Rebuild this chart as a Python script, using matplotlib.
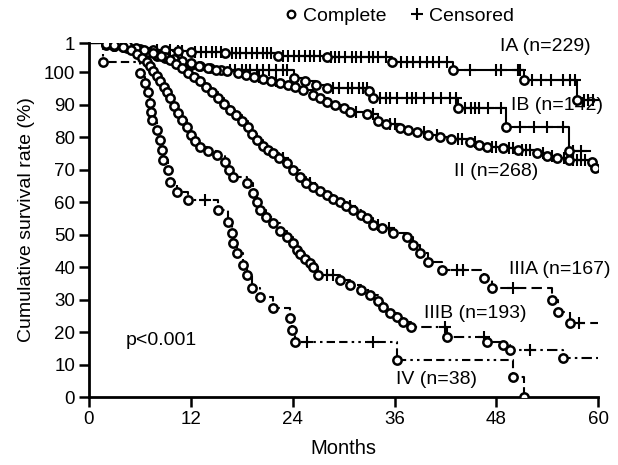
import matplotlib
matplotlib.use('Agg')
import matplotlib.pyplot as plt
import numpy as np
from matplotlib.lines import Line2D

plt.rcParams['font.family'] = ['Liberation Sans', 'DejaVu Sans']

# ---------------- data ----------------
TOP = 109  # value at which every curve starts (top of the axis, labelled "1")
x_ticks = [0, 12, 24, 36, 48, 60]
y_ticks = [0, 10, 20, 30, 40, 50, 60, 70, 80, 90, 100, 109]
y_tick_labels = ['0', '10', '20', '30', '40', '50', '60', '70', '80', '90', '100', '1']

group_labels = ['IA (n=229)', 'IB (n=142)', 'II (n=268)', 'IIIA (n=167)', 'IIIB (n=193)', 'IV (n=38)']

ia_t = [2.0, 3.0, 4.5, 6.0, 7.5, 9.0, 10.5, 12.0, 16.0, 22.3, 28.0, 35.7, 42.9, 51.2, 57.5]
ia_s = [108.5, 108.1, 107.7, 107.3, 107.0, 106.7, 106.5, 106.2, 105.8, 105.0, 104.7, 103.1, 100.6, 97.5, 91.4]
ia_cens = [8.0, 9.5, 10.5, 11.0, 12.5, 13.2, 13.8, 14.5, 15.0, 15.5, 16.8, 17.3, 17.8, 18.5, 19.2, 19.8,
           20.5, 21.0, 21.5, 22.8, 23.5, 24.2, 24.8, 25.5, 26.0, 26.5, 27.2, 28.5, 29.0, 29.5, 30.2, 31.0,
           31.5, 32.0, 33.0, 33.5, 34.0, 35.0, 36.8, 37.5, 38.2, 39.0, 39.8, 40.5, 41.2, 42.2, 44.9, 47.9,
           48.5, 50.5, 50.8, 52.2, 53.2, 54.4, 55.8, 56.7, 57.3, 58.3, 58.8, 59.4]
ia_end = 59.7

ib_t = [3.0, 4.5, 6.0, 7.0, 8.0, 9.0, 10.0, 11.0, 12.0, 13.1, 14.3, 15.5, 24.2, 25.5, 26.7, 28.0,
        33.0, 33.5, 43.5, 49.1, 56.5]
ib_s = [108.2, 107.4, 106.6, 105.9, 105.1, 104.4, 103.7, 103.0, 102.3, 101.8, 101.2, 100.6, 98.2, 97.2,
        96.0, 95.1, 94.2, 92.0, 89.0, 83.0, 75.7]
ib_cens = [16.6, 17.2, 18.0, 18.5, 19.0, 19.8, 20.5, 21.2, 22.0, 22.8, 23.3, 28.8, 29.5, 30.5, 31.0,
           31.8, 32.3, 32.8, 34.3, 35.0, 35.5, 36.3, 37.5, 38.0, 38.5, 39.5, 40.5, 41.5, 42.5, 43.3,
           44.3, 45.0, 45.5, 46.0, 47.0, 48.5, 50.8, 52.4, 54.0, 55.8, 57.0, 58.0]
ib_end = 59.0

ii_t = [2.0, 3.0, 4.0, 5.0, 6.0, 7.0, 8.0, 9.0, 10.0, 11.0, 12.0, 13.0, 14.0, 15.0, 16.3, 17.5, 18.5,
        19.5, 20.5, 21.5, 22.5, 23.5, 24.3, 25.2, 26.4, 27.2, 28.1, 29.0, 30.0, 30.8, 32.8, 34.0, 35.0,
        36.7, 37.6, 38.7, 40.0, 41.3, 42.6, 44.9, 46.0, 46.9, 48.8, 50.5, 52.8, 54.0, 55.2, 56.5, 59.3, 59.6]
ii_s = [108.6, 108.2, 107.8, 107.3, 106.7, 106.1, 105.4, 104.8, 104.1, 103.4, 102.7, 102.0, 101.4, 100.8,
        100.3, 99.7, 99.2, 98.6, 98.0, 97.4, 96.8, 96.2, 95.6, 94.5, 92.9, 92.0, 90.8, 90.0, 89.0, 87.7,
        87.0, 85.0, 84.2, 82.8, 82.2, 81.5, 80.6, 80.0, 79.6, 78.5, 77.6, 76.9, 76.6, 76.0, 75.1, 74.3,
        73.5, 73.0, 72.4, 70.5]
ii_cens = [20.0, 22.0, 31.5, 33.5, 35.5, 36.0, 39.5, 41.0, 43.5, 44.0, 45.5, 47.5, 48.0, 49.5, 50.0,
           51.0, 51.5, 52.0, 53.5, 54.5, 56.0, 57.0, 57.5, 58.0, 58.5]
ii_end = 59.6

iiia_t = [4.5, 5.5, 6.5, 7.5, 8.5, 9.5, 10.3, 11.0, 11.7, 12.4, 13.1, 13.8, 14.5, 15.2, 15.9, 16.6, 17.3,
          18.0, 18.7, 19.2, 19.8, 20.5, 21.1, 21.7, 22.4, 23.3, 24.0, 24.9, 25.6, 26.4, 27.2, 28.0, 28.8,
          29.6, 30.3, 31.1, 32.0, 32.8, 33.5, 34.5, 35.8, 37.5, 38.2, 39.0, 39.9, 41.6, 46.5, 47.5, 54.6,
          55.3, 56.7]
iiia_s = [108.3, 107.6, 106.9, 106.0, 105.0, 103.8, 102.5, 101.2, 99.8, 98.5, 97.2, 95.5, 93.8, 92.0, 90.2,
          88.5, 86.8, 85.0, 83.0, 81.0, 79.0, 77.4, 76.2, 75.0, 73.5, 72.0, 70.0, 67.7, 66.0, 64.6, 63.4,
          62.2, 61.1, 60.0, 58.8, 57.5, 56.2, 55.0, 53.0, 52.0, 50.5, 49.2, 46.8, 44.3, 41.5, 39.0, 36.6,
          33.5, 29.8, 26.2, 22.8]
iiia_cens = [22.8, 26.0, 30.7, 34.0, 35.3, 43.4, 44.1, 49.9, 57.7]
iiia_end = 60.0

iiib_t = [3.0, 4.0, 5.0, 5.7, 6.3, 6.8, 7.2, 7.6, 8.0, 8.4, 8.8, 9.2, 9.6, 10.0, 10.5, 11.0, 11.5, 12.0,
          12.5, 13.1, 14.0, 15.1, 16.0, 16.5, 17.0, 18.6, 19.3, 19.8, 20.2, 20.8, 21.7, 22.5, 23.3, 24.0,
          24.5, 24.9, 25.5, 26.0, 26.4, 27.0, 29.6, 30.8, 32.0, 33.1, 34.0, 34.7, 35.5, 36.3, 37.0, 37.9,
          42.2, 46.9, 48.8, 49.6, 55.9]
iiib_s = [108.4, 107.7, 106.8, 105.7, 104.5, 103.2, 101.8, 100.3, 98.8, 97.2, 95.6, 94.0, 92.0, 89.5,
          87.5, 85.3, 83.0, 80.8, 78.8, 77.0, 75.8, 74.5, 72.5, 70.0, 67.7, 66.0, 62.8, 60.2, 57.5, 55.5,
          53.5, 51.0, 49.2, 47.3, 45.3, 44.0, 42.5, 41.2, 40.0, 37.5, 36.0, 34.5, 33.0, 31.4, 29.5, 27.7,
          26.0, 24.6, 23.0, 21.5, 18.5, 16.9, 16.0, 14.5, 12.0]
iiib_cens = [28.0, 28.8, 42.0, 46.5, 52.0]
iiib_end = 60.0

iv_t = [1.7, 6.0, 6.6, 7.0, 7.2, 7.3, 7.4, 8.0, 8.4, 8.6, 8.7, 9.3, 9.6, 10.4, 11.7, 15.2, 16.4, 16.9,
        17.0, 17.4, 18.2, 18.6, 19.2, 20.2, 21.7, 23.7, 23.9, 24.3, 36.3, 49.9, 51.2]
iv_s = [103.3, 99.7, 96.6, 93.8, 90.5, 87.7, 85.2, 82.2, 79.1, 76.0, 72.9, 69.8, 66.2, 63.1, 60.6, 57.5,
        53.8, 50.5, 47.4, 44.3, 40.6, 37.5, 33.5, 30.8, 27.4, 24.3, 20.6, 16.9, 11.4, 6.2, 0.0]
iv_cens = [13.7, 25.7, 33.5]
iv_end = 51.2

# ---------------- styling ----------------
series = [
    (ia_t, ia_s, ia_cens, ia_end, '-'),
    (ib_t, ib_s, ib_cens, ib_end, '-'),
    (ii_t, ii_s, ii_cens, ii_end, '-'),
    (iiia_t, iiia_s, iiia_cens, iiia_end, (0, (5, 2.5))),
    (iiib_t, iiib_s, iiib_cens, iiib_end, (0, (5, 2, 1.2, 2))),
    (iv_t, iv_s, iv_cens, iv_end, (0, (4, 2, 4, 2, 1.2, 2, 1.2, 2))),
]
label_pos = [(53.8, 108.0), (55.2, 89.8), (48.0, 69.5), (55.5, 39.3), (45.5, 25.8), (41.0, 5.5)]

fig = plt.figure(figsize=(6.18, 4.65), dpi=100)
ax = fig.add_axes([0.144, 0.146, 0.824, 0.7615])

for t, s, cens, end, ls in series:
    xs = [0.0] + list(t) + [end]
    levels = [TOP] + list(s)
    ys = levels + [levels[-1]]
    ax.step(xs, ys, where='post', color='black', lw=1.5, ls=ls, zorder=2)
    idx = np.searchsorted(np.array(t), np.array(cens), side='right')
    cy = np.array(levels)[idx]
    ax.plot(cens, cy, ls='none', marker='+', ms=8, mew=1.5, color='black', zorder=3)
    ax.plot(t, s, ls='none', marker='o', ms=6.0, mfc='white', mec='black', mew=1.8, zorder=4)

for (lx, ly), lab in zip(label_pos, group_labels):
    ax.text(lx, ly, lab, ha='center', va='center', fontsize=14)

ax.text(8.5, 17.5, 'p<0.001', ha='center', va='center', fontsize=14)

ax.set_xlim(0, 60)
ax.set_ylim(0, TOP)
ax.set_xticks(x_ticks)
ax.set_yticks(y_ticks)
ax.set_yticklabels(y_tick_labels)
ax.tick_params(labelsize=13.5, width=1.8, length=7, direction='out', pad=3)
for sp in ['top', 'right']:
    ax.spines[sp].set_visible(False)
for sp in ['left', 'bottom']:
    ax.spines[sp].set_linewidth(2.0)
ax.spines['left'].set_bounds(0, TOP)
ax.set_xlabel('Months', fontsize=14.5, labelpad=8)
ax.set_ylabel('Cumulative survival rate (%)', fontsize=14, labelpad=6)

handles = [Line2D([], [], ls='none', marker='o', ms=5.5, mfc='white', mec='black', mew=1.6),
           Line2D([], [], ls='none', marker='+', ms=8, mew=1.5, color='black')]
fig.legend(handles, ['Complete', 'Censored'], loc='center', bbox_to_anchor=(0.645, 0.965),
           ncol=2, frameon=False, fontsize=14, handletextpad=0.2, columnspacing=1.2,
           handlelength=0.8)

fig.savefig('out.png', dpi=100)
